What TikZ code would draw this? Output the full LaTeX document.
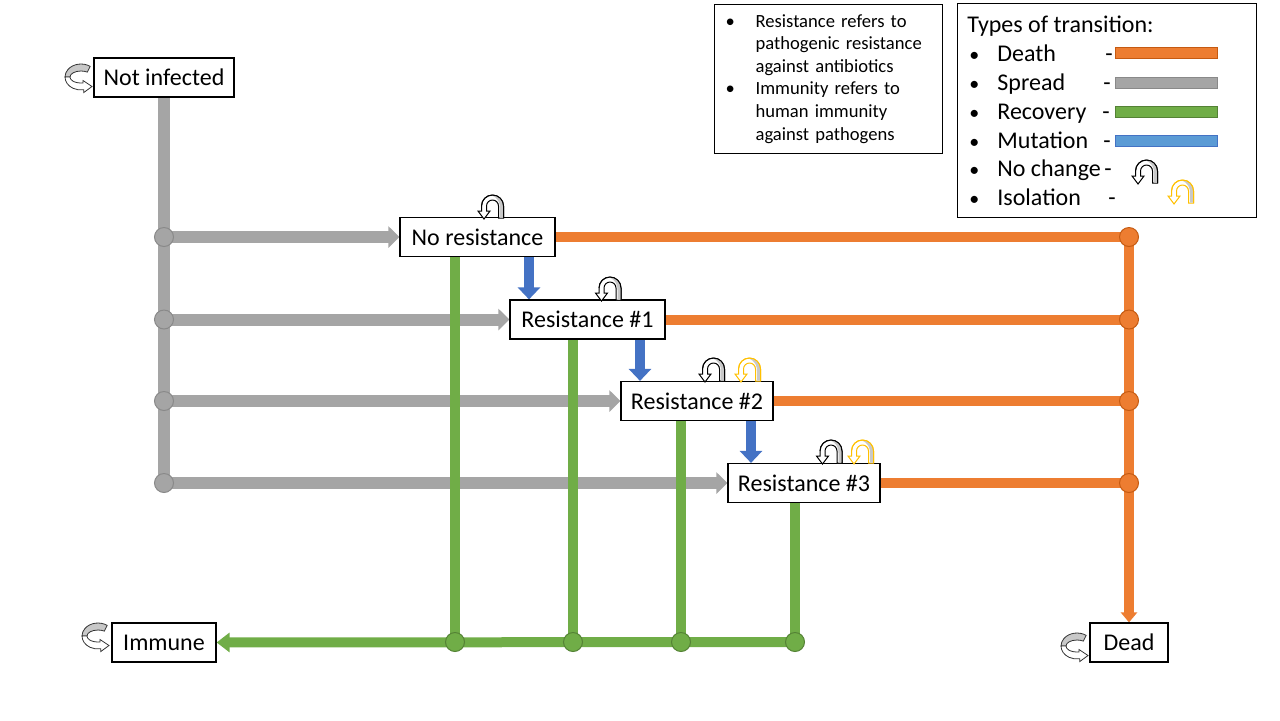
\documentclass[tikz,border=0pt]{standalone}
\usepackage{fontspec}
\setmainfont{Carlito}
\usetikzlibrary{arrows.meta, backgrounds, calc, positioning}
\definecolor{deathcol}{RGB}{237, 125, 49}
\definecolor{deathedge}{RGB}{197, 90, 17}
\definecolor{spreadcol}{RGB}{165, 165, 165}
\definecolor{spreadedge}{RGB}{137, 137, 137}
\definecolor{recovcol}{RGB}{112, 173, 71}
\definecolor{recovedge}{RGB}{84, 130, 53}
\definecolor{mutcol}{RGB}{68, 114, 196}
\definecolor{mutkey}{RGB}{91, 155, 213}
\definecolor{isocol}{RGB}{255, 192, 0}
\definecolor{bandcol}{RGB}{200, 200, 200}
\tikzset{
  state/.style  = {draw=black, fill=white, line width=0.6pt, inner sep=2pt,
                   minimum height=19.5pt},
  spread/.style = {draw=spreadcol, line width=6pt},
  death/.style  = {draw=deathcol, line width=5pt},
  recov/.style  = {draw=recovcol, line width=5pt},
  mutate/.style = {draw=mutcol, line width=5pt,
                   -{Triangle[length=6pt, width=11pt]}},
  joint/.style  = {circle, minimum size=9.5pt, inner sep=0pt, line width=0.5pt},
  sjoint/.style = {joint, fill=spreadcol, draw=spreadedge},
  djoint/.style = {joint, fill=deathcol, draw=deathedge},
  rjoint/.style = {joint, fill=recovcol, draw=recovedge},
  keytxt/.style = {anchor=base west, inner sep=0pt},
  keybar/.style = {line width=0.5pt},
  note/.style   = {draw=black, line width=0.6pt, align=left, inner xsep=5.5pt,
                   font=\fontsize{9.3}{11.3}\selectfont},
  % the small "stays where it is" arrow sitting on a box
  pics/uturn/.style = {code={
    \filldraw[fill=white, draw=#1, line width=0.5pt]
      (11,0) -- (11,12) arc[start angle=0, end angle=180, radius=11]
      -- (-11,7) -- (-14.5,7) -- (-8.5,-1) -- (-2.5,7) -- (-6,7)
      -- (-6,12) arc[start angle=180, end angle=0, radius=6] -- (6,0) -- cycle;
    \fill[bandcol] (10.6,0.4) -- (10.6,12) arc[start angle=0, end angle=95, radius=10.6]
      .. controls (6,20) and (7.5,15) .. (7.5,10) -- (7.5,0.4) -- cycle;
    \draw[#1, line width=0.5pt]
      (11,0) -- (11,12) arc[start angle=0, end angle=180, radius=11];
  }},
  % the flat circular arrow beside the end states
  pics/spin/.style = {code={
    \filldraw[fill=bandcol, draw=black!80, line width=0.4pt]
      (55:16 and 13) arc[start angle=55, end angle=180, x radius=16, y radius=13]
      -- (180:11 and 6) arc[start angle=180, end angle=55, x radius=11, y radius=6]
      -- cycle;
    \filldraw[fill=white, draw=black!80, line width=0.4pt]
      (180:16 and 13) arc[start angle=180, end angle=280, x radius=16, y radius=13]
      -- (2.8,-15.5) -- (11,-9.5) -- (2,-3.5)
      -- (280:11 and 6) arc[start angle=280, end angle=180, x radius=11, y radius=6]
      -- cycle;
  }},
}

\begin{document}
\begin{tikzpicture}[x=0.5pt, y=0.5pt, font=\fontsize{12}{14.4}\selectfont]
  \useasboundingbox (0,0) rectangle (1280,-720);

  %% ---------------- the states ----------------
  \node[state, minimum width=70pt]   (notinf) at (164,-77.5)  {Not infected};
  \node[state, minimum width=77.5pt] (nores)  at (477.5,-237) {No resistance};
  \node[state, minimum width=77.5pt] (res1)   at (587.5,-319.5) {Resistance \#1};
  \node[state, minimum width=76pt]   (res2)   at (697,-401)   {Resistance \#2};
  \node[state, minimum width=76pt]   (res3)   at (804,-483)   {Resistance \#3};
  \node[state, minimum width=52pt]   (immune) at (164,-642.5) {Immune};
  \node[state, minimum width=39pt]   (dead)   at (1129,-642.5) {Dead};

  % where the recovery and mutation lines leave their boxes
  \coordinate (g0) at (455,-642);
  \coordinate (g1) at (573,-642);
  \coordinate (g2) at (681,-642);
  \coordinate (g3) at (795,-642);
  \coordinate (m0) at (529,0);
  \coordinate (m1) at (640,0);
  \coordinate (m2) at (751,0);

  \begin{scope}[on background layer]
    %% spread
    \draw[spread] (notinf) -- (notinf |- res3);
    \foreach \s in {nores, res1, res2, res3}
      \draw[spread, -{Triangle[length=5.5pt, width=10.5pt]}] (notinf |- \s) -- (\s);
    %% death
    \foreach \s in {nores, res1, res2, res3}
      \draw[death] (\s) -- (\s -| dead);
    \draw[death, -{Triangle[length=5pt, width=8pt]}] (nores -| dead) -- (dead);
    %% recovery
    \draw[recov] (nores -| g0) -- (g0);
    \draw[recov] (res1 -| g1) -- (g1);
    \draw[recov] (res2 -| g2) -- (g2);
    \draw[recov] (res3 -| g3) -- (g3);
    \draw[recov, -{Triangle[length=6.5pt, width=9.5pt]}] (g3) -- (immune);
    %% mutation
    \draw[mutate] (nores.south -| m0) -- (res1.north -| m0);
    \draw[mutate] (res1.south -| m1) -- (res2.north -| m1);
    \draw[mutate] (res2.south -| m2) -- (res3.north -| m2);
    %% joints
    \foreach \s [count=\i] in {nores, res1, res2, res3} {
      \node[sjoint] (j\i) at (notinf |- \s) {};
      \node[djoint] (d\i) at (\s -| dead) {};
    }
    \foreach \i in {0,...,3}
      \node[rjoint] (r\i) at (g\i) {};
    %% end states stay put
    \pic at (81,-77) {spin};
    \pic at (98,-636) {spin};
    \pic at (1077,-646) {spin};
  \end{scope}

  %% ---------------- no change / isolation ----------------
  \pic at (492.5,-218) {uturn=black};
  \pic at (610,-300)   {uturn=black};
  \pic at (713.5,-381) {uturn=black};
  \pic at (749.5,-381) {uturn=isocol};
  \pic at (831,-463)   {uturn=black};
  \pic at (862.5,-463) {uturn=isocol};

  %% ---------------- notes ----------------
  \node[note, anchor=north west, text width=103pt, minimum height=73pt] (notes)
       at (714,-4)
       {\begin{tabular}{@{}p{15pt}@{}l@{}}
          \textbullet & Resistance refers to\\
                      & pathogenic resistance\\
                      & against antibiotics\\
          \textbullet & Immunity refers to\\
                      & human immunity\\
                      & against pathogens
        \end{tabular}};

  %% ---------------- key ----------------
  \node[draw=black, line width=0.6pt, anchor=north west, minimum width=149.5pt,
        minimum height=107pt, inner sep=0pt] (key) at (957,-3) {};
  \node[keytxt] (keyhdr) at (967,-32) {Types of transition:};
  \foreach \y/\txt/\dx [count=\i] in {61/Death/1105, 90/Spread/1103,
      119/Recovery/1102, 148/Mutation/1103, 176/No change/1104, 205/Isolation/1108} {
    \node[keytxt, font=\fontsize{10}{12}\selectfont] (kb\i) at (969,-\y) {\textbullet};
    \node[keytxt] (kt\i) at (997,-\y) {\txt};
    \node[keytxt] (kd\i) at (\dx,-\y) {-};
  }
  \draw[keybar, fill=deathcol, draw=deathedge]   (1115,-47)  rectangle (1217,-58);
  \draw[keybar, fill=spreadcol, draw=spreadedge] (1115,-77)  rectangle (1217,-88);
  \draw[keybar, fill=recovcol, draw=recovedge]   (1115,-106) rectangle (1217,-117);
  \draw[keybar, fill=mutkey, draw=mutcol]        (1115,-135) rectangle (1217,-146);
  \pic at (1146.5,-183) {uturn=black};
  \pic at (1182.5,-203) {uturn=isocol};

\end{tikzpicture}
\end{document}
